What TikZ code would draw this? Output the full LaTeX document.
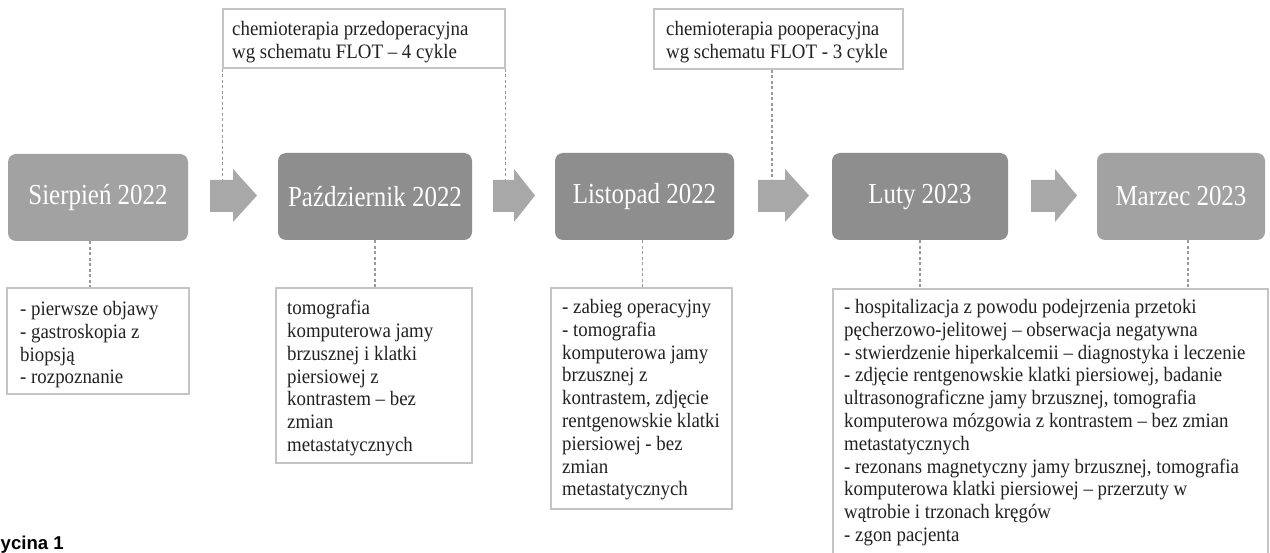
\documentclass[tikz,border=0pt]{standalone}
\usepackage{fontspec}
\setmainfont{Liberation Serif}
\newfontfamily\bodyf[FakeStretch=0.92]{Liberation Serif}
\newfontfamily\labf[FakeStretch=0.86]{Liberation Serif}
\newfontfamily\capf{Liberation Sans}
\definecolor{boxdark}{HTML}{8E8E8E}
\definecolor{boxlight}{HTML}{A2A2A2}
\definecolor{arrowgray}{HTML}{A8A8A8}
\definecolor{framegray}{HTML}{C4C4C4}
\definecolor{dashgray}{HTML}{9A9A9A}
\definecolor{txt}{HTML}{222222}
\begin{document}
\begin{tikzpicture}[x=1pt,y=-1pt,
  datebox/.style={rectangle, rounded corners=8pt, draw=none, text=white,
    font=\labf\fontsize{29}{32}\selectfont, inner sep=0, minimum height=87pt},
  notebox/.style={rectangle, draw=framegray, line width=1.3pt, fill=white, inner sep=0},
  notetext/.style={anchor=north west, align=left, inner sep=0, text=txt,
    font=\bodyf\fontsize{20.5}{22.8}\selectfont},
  dl/.style={draw=dashgray, line width=1.2pt, dash pattern=on 3pt off 2.5pt},
  bigarrow/.style={fill=arrowgray, draw=none}]
\useasboundingbox (0,0) rectangle (1270,553);
\clip (0,0) rectangle (1270,553);
\fill[white] (0,0) rectangle (1270,553);

% date boxes
\node[datebox, fill=boxlight, minimum width=180pt] (B1) at (98,197.5) {Sierpień 2022};
\node[datebox, fill=boxdark, minimum width=194pt] (B2) at (375,196.5) {Październik 2022};
\node[datebox, fill=boxdark, minimum width=179pt] (B3) at (644.5,196.5) {Listopad 2022};
\node[datebox, fill=boxdark, minimum width=176pt] (B4) at (920,196.5) {Luty 2023};
\node[datebox, fill=boxlight, minimum width=168pt] (B5) at (1181,196.5) {Marzec 2023};

% block arrows
\fill[bigarrow] (210,180) -- (233,180) -- (233,169) -- (257,195.5) -- (233,222) -- (233,212) -- (210,212) -- cycle;
\fill[bigarrow] (493,180) -- (514,180) -- (514,169) -- (535,195.5) -- (514,222) -- (514,212) -- (493,212) -- cycle;
\fill[bigarrow] (758,180) -- (785,180) -- (785,169) -- (809,195.5) -- (785,222) -- (785,212) -- (758,212) -- cycle;
\fill[bigarrow] (1031,180) -- (1055,180) -- (1055,169) -- (1077,195.5) -- (1055,222) -- (1055,212) -- (1031,212) -- cycle;
\coordinate (a1top) at (223,180);
\coordinate (a2top) at (505,180);
\coordinate (a3top) at (772,180);

% top note boxes
\node[notebox, minimum width=282pt, minimum height=59pt] (T1) at (364,38.5) {};
\node[notebox, minimum width=249pt, minimum height=60pt] (T2) at (778.5,39) {};
\node[notetext] (T1t) at (232,21) {chemioterapia przedoperacyjna\\wg schematu FLOT – 4 cykle};
\node[notetext] (T2t) at (666,21) {chemioterapia pooperacyjna\\wg schematu FLOT - 3 cykle};

% bottom note boxes
\node[notebox, minimum width=182pt, minimum height=106pt] (D1) at (98,341) {};
\node[notebox, minimum width=196pt, minimum height=175pt] (D2) at (374,375.5) {};
\node[notebox, minimum width=181pt, minimum height=221pt] (D3) at (641.5,398.5) {};
\node[notebox, minimum width=435pt, minimum height=276pt] (D4) at (1050.5,427) {};

\node[notetext] (D1t) at (20,301) {- pierwsze objawy\\- gastroskopia z\\biopsją\\- rozpoznanie};
\node[notetext] (D2t) at (287,300) {tomografia\\komputerowa jamy\\brzusznej i klatki\\piersiowej z\\kontrastem – bez\\zmian\\metastatycznych};
\node[notetext] (D3t) at (562,299) {- zabieg operacyjny\\- tomografia\\komputerowa jamy\\brzusznej z\\kontrastem, zdjęcie\\rentgenowskie klatki\\piersiowej - bez\\zmian\\metastatycznych};
\node[notetext] (D4t) at (844,299) {- hospitalizacja z powodu podejrzenia przetoki\\pęcherzowo-jelitowej – obserwacja negatywna\\- stwierdzenie hiperkalcemii – diagnostyka i leczenie\\- zdjęcie rentgenowskie klatki piersiowej, badanie\\ultrasonograficzne jamy brzusznej, tomografia\\komputerowa mózgowia z kontrastem – bez zmian\\metastatycznych\\- rezonans magnetyczny jamy brzusznej, tomografia\\komputerowa klatki piersiowej – przerzuty w\\wątrobie i trzonach kręgów\\- zgon pacjenta};

% dashed connectors
\draw[dl] (T1.south west) -- (T1.south west |- a1top);
\draw[dl] (T1.south east) -- (T1.south east |- a2top);
\draw[dl] ([xshift=-6.5pt]T2.south) -- (a3top);
\draw[dl] ([xshift=-8pt]B1.south) -- ([xshift=-8pt]D1.north);
\draw[dl] (B2.south) -- (B2.south |- D2.north);
\draw[dl] ([xshift=-2pt]B3.south) -- ([xshift=-2pt]B3.south |- D3.north);
\draw[dl] (B4.south) -- (B4.south |- D4.north);
\draw[dl] ([xshift=7pt]B5.south) -- ([xshift=7pt]B5.south |- D4.north);

% caption, as far as the reference shows it
\node[anchor=base west, inner sep=0, text=black, font=\capf\bfseries\fontsize{18.6}{20}\selectfont] (cap) at (0.5,549.5) {ycina 1};
\end{tikzpicture}
\end{document}
